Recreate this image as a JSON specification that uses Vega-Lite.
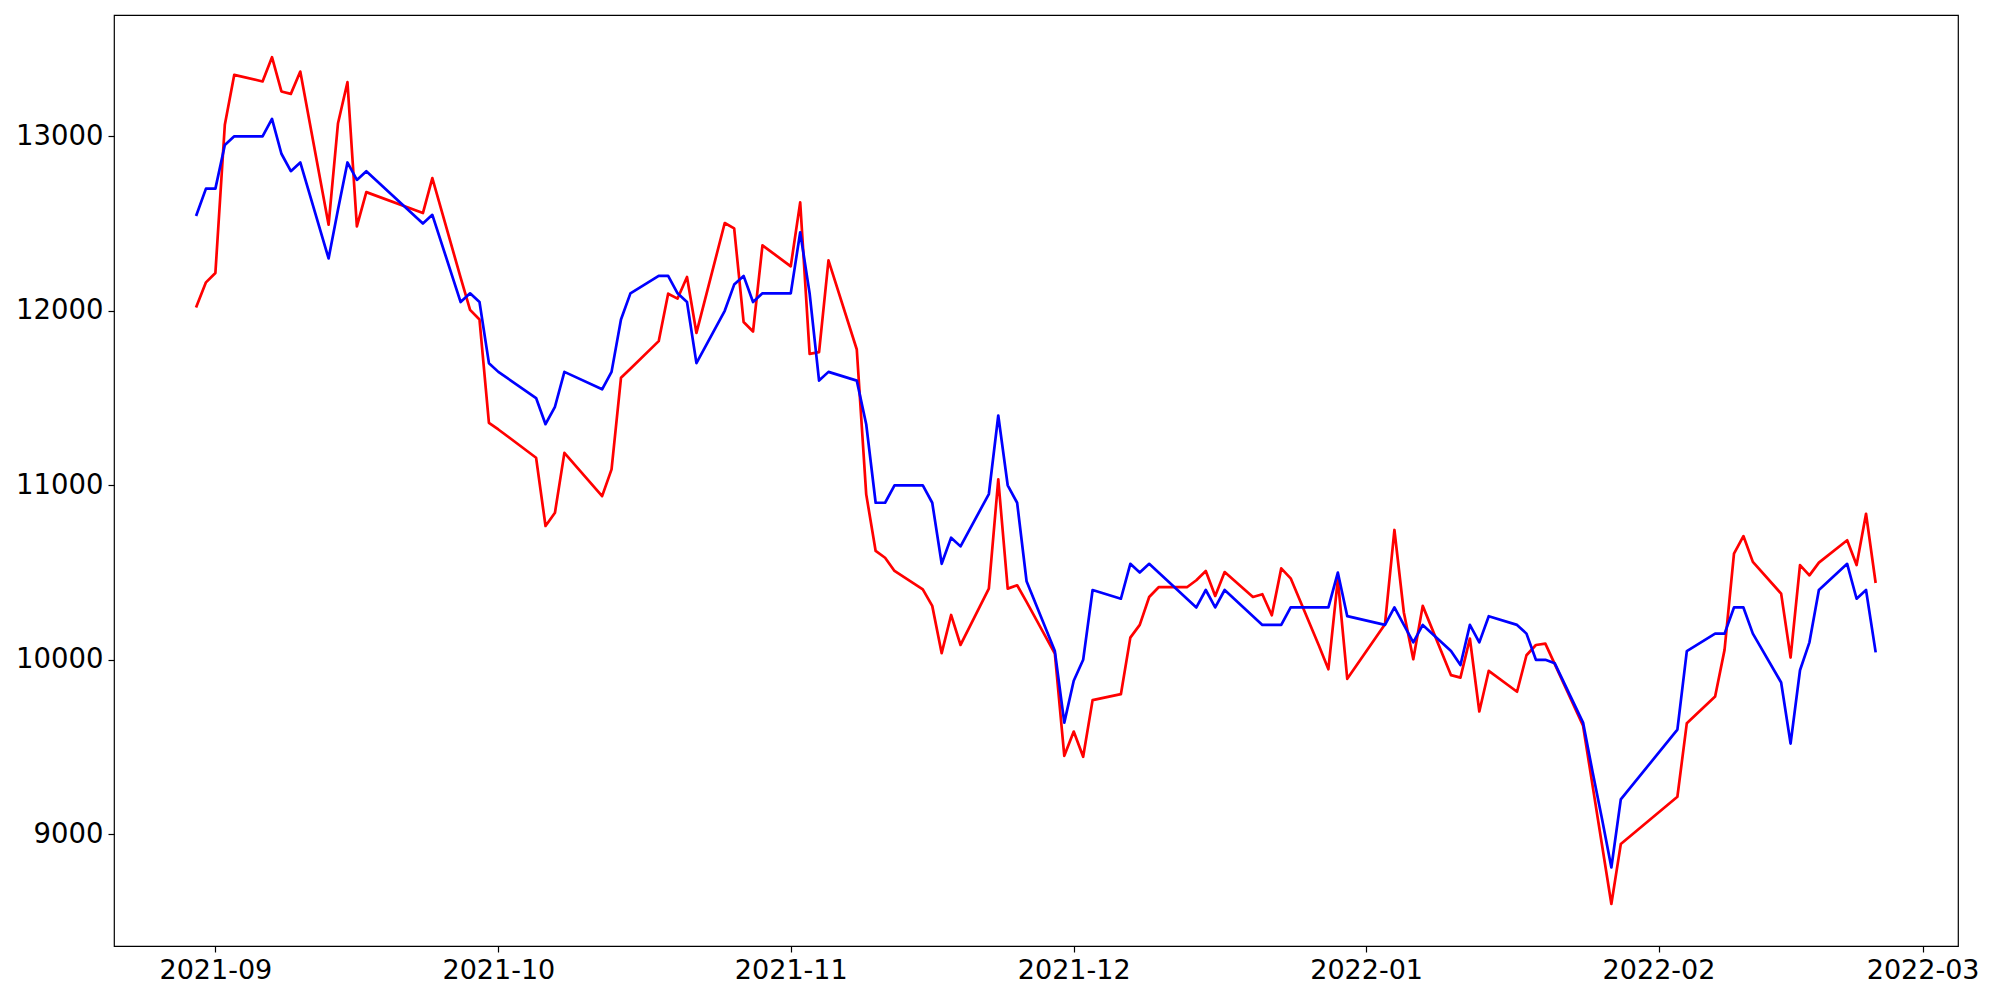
{
  "$schema": "https://vega.github.io/schema/vega-lite/v6.json",
  "width": 1844,
  "height": 931,
  "autosize": {"type": "none"},
  "padding": {"left": 114, "top": 15, "right": 42, "bottom": 54},
  "background": "white",
  "config": {
    "view": {"stroke": "black", "strokeWidth": 1.2},
    "axis": {
      "grid": false,
      "domain": false,
      "title": null,
      "labelFont": "DejaVu Sans",
      "labelFontSize": 27,
      "labelColor": "black",
      "tickColor": "black",
      "tickSize": 6,
      "tickWidth": 1.2,
      "labelPadding": 5,
      "labelFlush": false,
      "labelOverlap": false
    }
  },
  "data": {
    "values": [
      {"date": "2021-08-30T00:00:00", "red": 12026, "blue": 12550},
      {"date": "2021-08-31T00:00:00", "red": 12163, "blue": 12700},
      {"date": "2021-09-01T00:00:00", "red": 12217, "blue": 12700},
      {"date": "2021-09-02T00:00:00", "red": 13066, "blue": 12950},
      {"date": "2021-09-03T00:00:00", "red": 13352, "blue": 13000},
      {"date": "2021-09-06T00:00:00", "red": 13314, "blue": 13000},
      {"date": "2021-09-07T00:00:00", "red": 13453, "blue": 13100},
      {"date": "2021-09-08T00:00:00", "red": 13257, "blue": 12900},
      {"date": "2021-09-09T00:00:00", "red": 13243, "blue": 12800},
      {"date": "2021-09-10T00:00:00", "red": 13371, "blue": 12850},
      {"date": "2021-09-13T00:00:00", "red": 12493, "blue": 12300},
      {"date": "2021-09-14T00:00:00", "red": 13075, "blue": 12580},
      {"date": "2021-09-15T00:00:00", "red": 13310, "blue": 12850},
      {"date": "2021-09-16T00:00:00", "red": 12484, "blue": 12750},
      {"date": "2021-09-17T00:00:00", "red": 12680, "blue": 12800},
      {"date": "2021-09-23T00:00:00", "red": 12560, "blue": 12500},
      {"date": "2021-09-24T00:00:00", "red": 12760, "blue": 12550},
      {"date": "2021-09-27T00:00:00", "red": 12190, "blue": 12050},
      {"date": "2021-09-28T00:00:00", "red": 12005, "blue": 12100},
      {"date": "2021-09-29T00:00:00", "red": 11950, "blue": 12050},
      {"date": "2021-09-30T00:00:00", "red": 11358, "blue": 11700},
      {"date": "2021-10-01T00:00:00", "red": 11320, "blue": 11650},
      {"date": "2021-10-05T00:00:00", "red": 11158, "blue": 11500},
      {"date": "2021-10-06T00:00:00", "red": 10767, "blue": 11350},
      {"date": "2021-10-07T00:00:00", "red": 10843, "blue": 11450},
      {"date": "2021-10-08T00:00:00", "red": 11186, "blue": 11650},
      {"date": "2021-10-12T00:00:00", "red": 10938, "blue": 11550},
      {"date": "2021-10-13T00:00:00", "red": 11091, "blue": 11650},
      {"date": "2021-10-14T00:00:00", "red": 11616, "blue": 11950},
      {"date": "2021-10-15T00:00:00", "red": 11668, "blue": 12100},
      {"date": "2021-10-18T00:00:00", "red": 11826, "blue": 12200},
      {"date": "2021-10-19T00:00:00", "red": 12098, "blue": 12200},
      {"date": "2021-10-20T00:00:00", "red": 12070, "blue": 12100},
      {"date": "2021-10-21T00:00:00", "red": 12194, "blue": 12050},
      {"date": "2021-10-22T00:00:00", "red": 11873, "blue": 11700},
      {"date": "2021-10-25T00:00:00", "red": 12503, "blue": 12000},
      {"date": "2021-10-26T00:00:00", "red": 12472, "blue": 12150},
      {"date": "2021-10-27T00:00:00", "red": 11936, "blue": 12200},
      {"date": "2021-10-28T00:00:00", "red": 11881, "blue": 12050},
      {"date": "2021-10-29T00:00:00", "red": 12375, "blue": 12100},
      {"date": "2021-11-01T00:00:00", "red": 12255, "blue": 12100},
      {"date": "2021-11-02T00:00:00", "red": 12621, "blue": 12450},
      {"date": "2021-11-03T00:00:00", "red": 11753, "blue": 12100},
      {"date": "2021-11-04T00:00:00", "red": 11763, "blue": 11600},
      {"date": "2021-11-05T00:00:00", "red": 12289, "blue": 11650},
      {"date": "2021-11-08T00:00:00", "red": 11778, "blue": 11600},
      {"date": "2021-11-09T00:00:00", "red": 10948, "blue": 11350},
      {"date": "2021-11-10T00:00:00", "red": 10624, "blue": 10900},
      {"date": "2021-11-11T00:00:00", "red": 10585, "blue": 10900},
      {"date": "2021-11-12T00:00:00", "red": 10509, "blue": 11000},
      {"date": "2021-11-15T00:00:00", "red": 10404, "blue": 11000},
      {"date": "2021-11-16T00:00:00", "red": 10309, "blue": 10900},
      {"date": "2021-11-17T00:00:00", "red": 10038, "blue": 10550},
      {"date": "2021-11-18T00:00:00", "red": 10257, "blue": 10700},
      {"date": "2021-11-19T00:00:00", "red": 10085, "blue": 10650},
      {"date": "2021-11-22T00:00:00", "red": 10408, "blue": 10950},
      {"date": "2021-11-23T00:00:00", "red": 11034, "blue": 11400},
      {"date": "2021-11-24T00:00:00", "red": 10408, "blue": 11000},
      {"date": "2021-11-25T00:00:00", "red": 10427, "blue": 10900},
      {"date": "2021-11-26T00:00:00", "red": 10332, "blue": 10450},
      {"date": "2021-11-29T00:00:00", "red": 10035, "blue": 10050},
      {"date": "2021-11-30T00:00:00", "red": 9450, "blue": 9640},
      {"date": "2021-12-01T00:00:00", "red": 9589, "blue": 9880},
      {"date": "2021-12-02T00:00:00", "red": 9444, "blue": 10000},
      {"date": "2021-12-03T00:00:00", "red": 9769, "blue": 10400},
      {"date": "2021-12-06T00:00:00", "red": 9803, "blue": 10350},
      {"date": "2021-12-07T00:00:00", "red": 10127, "blue": 10550},
      {"date": "2021-12-08T00:00:00", "red": 10200, "blue": 10500},
      {"date": "2021-12-09T00:00:00", "red": 10360, "blue": 10550},
      {"date": "2021-12-10T00:00:00", "red": 10416, "blue": 10500},
      {"date": "2021-12-13T00:00:00", "red": 10416, "blue": 10350},
      {"date": "2021-12-14T00:00:00", "red": 10456, "blue": 10300},
      {"date": "2021-12-15T00:00:00", "red": 10509, "blue": 10400},
      {"date": "2021-12-16T00:00:00", "red": 10366, "blue": 10300},
      {"date": "2021-12-17T00:00:00", "red": 10503, "blue": 10400},
      {"date": "2021-12-20T00:00:00", "red": 10360, "blue": 10250},
      {"date": "2021-12-21T00:00:00", "red": 10376, "blue": 10200},
      {"date": "2021-12-22T00:00:00", "red": 10255, "blue": 10200},
      {"date": "2021-12-23T00:00:00", "red": 10524, "blue": 10200},
      {"date": "2021-12-24T00:00:00", "red": 10467, "blue": 10300},
      {"date": "2021-12-27T00:00:00", "red": 10080, "blue": 10300},
      {"date": "2021-12-28T00:00:00", "red": 9946, "blue": 10300},
      {"date": "2021-12-29T00:00:00", "red": 10461, "blue": 10500},
      {"date": "2021-12-30T00:00:00", "red": 9891, "blue": 10250},
      {"date": "2022-01-03T00:00:00", "red": 10204, "blue": 10200},
      {"date": "2022-01-04T00:00:00", "red": 10744, "blue": 10300},
      {"date": "2022-01-05T00:00:00", "red": 10271, "blue": 10200},
      {"date": "2022-01-06T00:00:00", "red": 10003, "blue": 10100},
      {"date": "2022-01-07T00:00:00", "red": 10309, "blue": 10200},
      {"date": "2022-01-10T00:00:00", "red": 9912, "blue": 10050},
      {"date": "2022-01-11T00:00:00", "red": 9898, "blue": 9970},
      {"date": "2022-01-12T00:00:00", "red": 10122, "blue": 10200},
      {"date": "2022-01-13T00:00:00", "red": 9704, "blue": 10100},
      {"date": "2022-01-14T00:00:00", "red": 9937, "blue": 10250},
      {"date": "2022-01-17T00:00:00", "red": 9817, "blue": 10200},
      {"date": "2022-01-18T00:00:00", "red": 10026, "blue": 10150},
      {"date": "2022-01-19T00:00:00", "red": 10085, "blue": 10000},
      {"date": "2022-01-20T00:00:00", "red": 10093, "blue": 10000},
      {"date": "2022-01-21T00:00:00", "red": 9975, "blue": 9980},
      {"date": "2022-01-24T00:00:00", "red": 9622, "blue": 9640},
      {"date": "2022-01-25T00:00:00", "red": 9282, "blue": 9360},
      {"date": "2022-01-26T00:00:00", "red": 8942, "blue": 9090},
      {"date": "2022-01-27T00:00:00", "red": 8601, "blue": 8810},
      {"date": "2022-01-28T00:00:00", "red": 8944, "blue": 9200},
      {"date": "2022-02-03T00:00:00", "red": 9215, "blue": 9600},
      {"date": "2022-02-04T00:00:00", "red": 9637, "blue": 10050},
      {"date": "2022-02-07T00:00:00", "red": 9790, "blue": 10150},
      {"date": "2022-02-08T00:00:00", "red": 10057, "blue": 10150},
      {"date": "2022-02-09T00:00:00", "red": 10608, "blue": 10300},
      {"date": "2022-02-10T00:00:00", "red": 10709, "blue": 10300},
      {"date": "2022-02-11T00:00:00", "red": 10561, "blue": 10150},
      {"date": "2022-02-14T00:00:00", "red": 10379, "blue": 9870},
      {"date": "2022-02-15T00:00:00", "red": 10013, "blue": 9520},
      {"date": "2022-02-16T00:00:00", "red": 10543, "blue": 9940},
      {"date": "2022-02-17T00:00:00", "red": 10484, "blue": 10100},
      {"date": "2022-02-18T00:00:00", "red": 10557, "blue": 10400},
      {"date": "2022-02-21T00:00:00", "red": 10685, "blue": 10550},
      {"date": "2022-02-22T00:00:00", "red": 10543, "blue": 10350},
      {"date": "2022-02-23T00:00:00", "red": 10837, "blue": 10400},
      {"date": "2022-02-24T00:00:00", "red": 10448, "blue": 10050}
    ]
  },
  "encoding": {
    "x": {
      "field": "date",
      "type": "temporal",
      "scale": {
        "domain": [
          {"year": 2021, "month": 8, "date": 21, "hours": 6},
          {"year": 2022, "month": 3, "date": 4, "hours": 18}
        ],
        "nice": false
      },
      "axis": {
        "format": "%Y-%m",
        "tickCount": {"interval": "month", "step": 1},
        "labelFontSize": 27
      }
    }
  },
  "layer": [
    {
      "mark": {"type": "line", "color": "#ff0000", "strokeWidth": 2.7, "strokeJoin": "round", "strokeCap": "square"},
      "encoding": {
        "y": {
          "field": "red",
          "type": "quantitative",
          "scale": {"domain": [8360, 13695], "zero": false, "nice": false},
          "axis": {"values": [9000, 10000, 11000, 12000, 13000], "format": "d", "labelFontSize": 27.5}
        }
      }
    },
    {
      "mark": {"type": "line", "color": "#0000ff", "strokeWidth": 2.7, "strokeJoin": "round", "strokeCap": "square"},
      "encoding": {
        "y": {
          "field": "blue",
          "type": "quantitative",
          "axis": {"values": [9000, 10000, 11000, 12000, 13000], "format": "d", "labelFontSize": 27.5}
        }
      }
    }
  ]
}
